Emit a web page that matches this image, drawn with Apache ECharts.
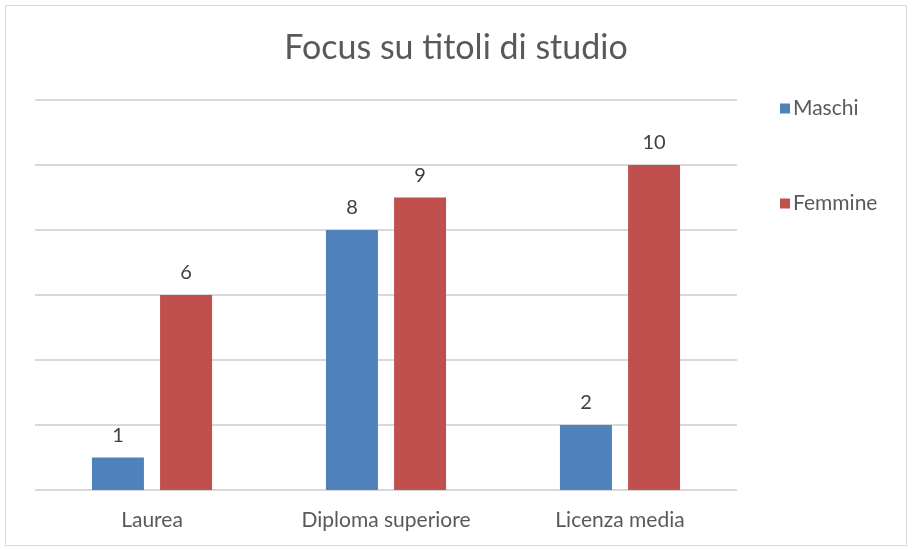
<!DOCTYPE html>
<html>
<head>
<meta charset="utf-8">
<script src="https://cdn.jsdelivr.net/npm/echarts@6/dist/echarts.min.js"></script>
<style>
html,body{margin:0;padding:0;background:#fff;}
#main{width:912px;height:549px;}
</style>
</head>
<body>
<div id="main"></div>
<script>
var categories = ['Laurea', 'Diploma superiore', 'Licenza media'];
var maschi = [1, 8, 2];
var femmine = [6, 9, 10];

var chart = echarts.init(document.getElementById('main'));
var labelStyle = { show: true, position: 'top', distance: 12, color: '#404040', fontSize: 20, fontFamily: 'Lato' };
chart.setOption({
  backgroundColor: '#fff',
  graphic: [{
    type: 'rect',
    shape: { x: 5.5, y: 5.5, width: 901, height: 540 },
    style: { fill: 'none', stroke: '#d9d9d9', lineWidth: 1 },
    z: -1
  }],
  title: {
    text: 'Focus su titoli di studio',
    left: 'center',
    top: 26,
    textStyle: { color: '#595959', fontSize: 34, fontWeight: 'normal', fontFamily: 'Lato' }
  },
  legend: {
    orient: 'vertical',
    left: 775,
    top: 93,
    itemGap: 74,
    itemWidth: 10,
    itemHeight: 10,
    icon: 'rect',
    textStyle: { color: '#595959', fontSize: 21, fontFamily: 'Lato', padding: [0, 0, 0, -2] },
    data: ['Maschi', 'Femmine']
  },
  grid: { left: 35, right: 175, top: 100, bottom: 59 },
  xAxis: {
    type: 'category',
    data: categories,
    axisLine: { show: false },
    axisTick: { show: false },
    axisLabel: { color: '#595959', fontSize: 21, fontFamily: 'Lato', margin: 20 }
  },
  yAxis: {
    type: 'value',
    min: 0,
    max: 12,
    interval: 2,
    axisLabel: { show: false },
    axisLine: { show: false },
    axisTick: { show: false },
    splitLine: { lineStyle: { color: '#d9d9d9', width: 2 } }
  },
  series: [
    { name: 'Maschi', type: 'bar', data: maschi, barWidth: 52, barGap: '31%',
      itemStyle: { color: '#4f81bd' }, label: labelStyle },
    { name: 'Femmine', type: 'bar', data: femmine, barWidth: 52,
      itemStyle: { color: '#c0504d' }, label: labelStyle }
  ]
});
</script>
</body>
</html>
